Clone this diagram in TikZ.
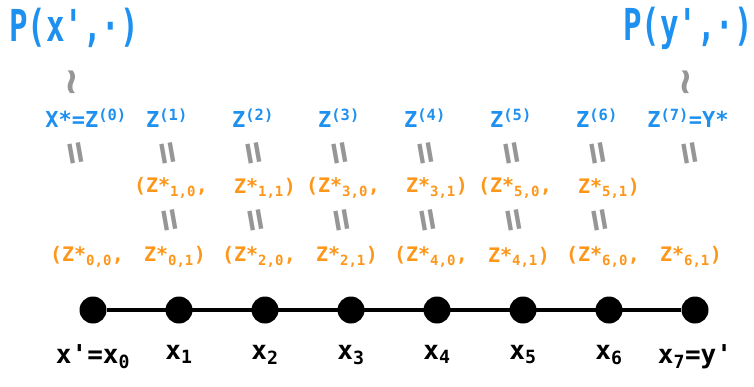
\documentclass[tikz,border=0pt]{standalone}
\usepackage{fontspec}
\usepackage{tikz}
\usetikzlibrary{positioning,calc}
\newfontfamily\handfont{DejaVu Sans Mono}
\newfontfamily\kernfont{DejaVu Sans Mono}[FakeStretch=0.7]
\definecolor{chainBlue}{RGB}{30,144,240}
\definecolor{chainOrange}{RGB}{253,150,25}
\definecolor{chainGray}{RGB}{150,150,150}
\newcommand{\zst}[2]{Z*\textsubscript{#1,#2}}
\newcommand{\zup}[1]{Z\textsuperscript{(#1)}}

\begin{document}
\begin{tikzpicture}[
    x=1pt, y=-1pt,
    node distance=14pt,
    dot/.style={circle, fill=black, minimum size=27pt, inner sep=0pt},
    link/.style={line width=3.5pt, black},
    xlab/.style={font=\handfont\bfseries\fontsize{26}{30}\selectfont, inner sep=1pt},
    kernel/.style={font=\kernfont\bfseries\fontsize{44}{48}\selectfont, text=chainBlue, inner sep=0pt},
    zlab/.style={font=\handfont\bfseries\fontsize{22}{26}\selectfont, text=chainBlue, inner sep=0pt},
    pairlab/.style={font=\handfont\bfseries\fontsize{20}{24}\selectfont, text=chainOrange, inner sep=0pt},
    eqsign/.style={font=\handfont\bfseries\fontsize{38}{42}\selectfont, text=chainGray, rotate=100, inner sep=0pt},
    wave/.style={font=\handfont\bfseries\fontsize{44}{48}\selectfont, text=chainGray, rotate=90, inner sep=0pt}
  ]
    \useasboundingbox (0,0) rectangle (754,386);
    % chain of states
    \foreach \i in {0,...,7}
      \node[dot] (d\i) at ({93+86*\i},310) {};
    \draw[link] (d0) -- (d7);
    \node[xlab, below=20pt of d0] (x0) {x'=x\textsubscript{0}};
    \foreach \i in {1,...,6}
      \node[xlab, below=20pt of d\i] (x\i) {x\textsubscript{\i}};
    \node[xlab, below=20pt of d7] (x7) {x\textsubscript{7}=y'};
    % coupled pairs
    \foreach \i in {0,2,4,6} {
      \pgfmathtruncatemacro{\j}{\i+1}
      \node[pairlab] (p\i a) at ({93+86*\i-6},257) {(\zst{\i}{0},};
      \node[pairlab] (p\i b) at ({93+86*\j-4},257) {\zst{\i}{1})};
    }
    \foreach \i in {1,3,5} {
      \pgfmathtruncatemacro{\j}{\i+1}
      \node[pairlab] (p\i a) at ({93+86*\i-8},188) {(\zst{\i}{0},};
      \node[pairlab] (p\i b) at ({93+86*\j},188) {\zst{\i}{1})};
    }
    \foreach \i in {1,...,6}
      \node[eqsign] (e\i) at ({93+86*\i-7},220) {=};
    % trajectory Z
    \node[zlab] (z0) at (86,118) {X*=\zup{0}};
    \foreach \i in {1,...,6}
      \node[zlab] (z\i) at ({93+86*\i-12},118) {\zup{\i}};
    \node[zlab] (z7) at (688,118) {\zup{7}=Y*};
    \node[eqsign] (f0) at (78,153) {=};
    \foreach \i in {1,...,6}
      \node[eqsign] (f\i) at ({93+86*\i-9},153) {=};
    \node[eqsign] (f7) at (692,153) {=};
    % initial kernels
    \node[wave] (w0) at (77,82) {\textasciitilde};
    \node[wave] (w7) at (691,82) {\textasciitilde};
    \node[kernel] (k0) at (74,28) {P(x',·)};
    \node[kernel] (k7) at (688,28) {P(y',·)};
  \end{tikzpicture}
\end{document}
